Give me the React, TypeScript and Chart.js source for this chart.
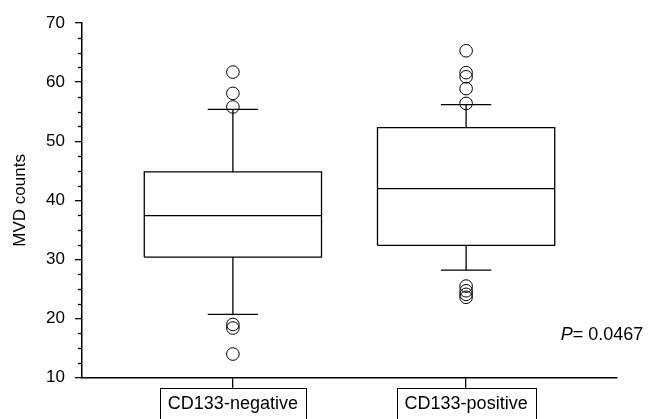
import React, { useEffect, useRef } from 'react';
import { Chart, registerables } from 'chart.js';

Chart.register(...registerables);

const categories = ['CD133-negative', 'CD133-positive'];
const q1Values = [30.4, 32.4];
const medianValues = [37.4, 42.0];
const q3Values = [44.8, 52.3];
const whiskerLowValues = [20.7, 28.2];
const whiskerHighValues = [55.4, 56.2];
const outliersNegative = [61.7, 58.1, 55.8, 19.0, 18.4, 14.0];
const outliersPositive = [65.3, 61.6, 60.9, 58.9, 56.4, 25.5, 24.7, 24.1, 23.6];
const yMin = 10;
const yMax = 70;
const yStep = 10;
const yMinorStep = 2.5;
const pLabelItalic = 'P';
const pLabelRest = '= 0.0467';
const pLabelAt = { x: 2.406, y: 17.25 };

const BOX_HALF = 0.38;
const CAP_HALF = 0.108;
const FONT = '"Liberation Sans", Arial, Helvetica, sans-serif';

type Pt = { x: number; y: number | null };

function buildBoxes(): Pt[] {
  const pts: Pt[] = [];
  categories.forEach((_, i) => {
    const x = i + 1;
    const a = x - BOX_HALF;
    const b = x + BOX_HALF;
    pts.push({ x: a, y: q1Values[i] }, { x: b, y: q1Values[i] }, { x: b, y: q3Values[i] }, { x: a, y: q3Values[i] }, { x: a, y: q1Values[i] }, { x, y: null });
    pts.push({ x: a, y: medianValues[i] }, { x: b, y: medianValues[i] }, { x, y: null });
  });
  return pts;
}

function buildWhiskers(): Pt[] {
  const pts: Pt[] = [];
  categories.forEach((_, i) => {
    const x = i + 1;
    pts.push({ x, y: q3Values[i] }, { x, y: whiskerHighValues[i] }, { x, y: null });
    pts.push({ x: x - CAP_HALF, y: whiskerHighValues[i] }, { x: x + CAP_HALF, y: whiskerHighValues[i] }, { x, y: null });
    pts.push({ x, y: q1Values[i] }, { x, y: whiskerLowValues[i] }, { x, y: null });
    pts.push({ x: x - CAP_HALF, y: whiskerLowValues[i] }, { x: x + CAP_HALF, y: whiskerLowValues[i] }, { x, y: null });
  });
  return pts;
}

function buildOutliers(): Pt[] {
  return [
    ...outliersNegative.map((y) => ({ x: 1, y })),
    ...outliersPositive.map((y) => ({ x: 2, y })),
  ];
}

const extrasPlugin = {
  id: 'extras',
  afterDraw(chart: any) {
    const ctx = chart.ctx as CanvasRenderingContext2D;
    const xs = chart.scales.x;
    const ys = chart.scales.y;
    const area = chart.chartArea;
    ctx.save();
    ctx.strokeStyle = '#000';
    ctx.lineWidth = 1.3;
    for (let v = yMin; v <= yMax + 1e-9; v += yMinorStep) {
      if (Math.abs(v / yStep - Math.round(v / yStep)) < 1e-6) continue;
      const py = Math.round(ys.getPixelForValue(v)) + 0.5;
      ctx.beginPath();
      ctx.moveTo(area.left - 4, py);
      ctx.lineTo(area.left, py);
      ctx.stroke();
    }
    ctx.font = `18px ${FONT}`;
    ctx.lineWidth = 1;
    categories.forEach((label, i) => {
      const px = xs.getPixelForValue(i + 1);
      const w = ctx.measureText(label).width + 16;
      ctx.strokeRect(Math.round(px - w / 2) + 0.5, Math.round(area.bottom + 10) + 0.5, Math.round(w), 60);
    });
    const tx = xs.getPixelForValue(pLabelAt.x);
    const ty = ys.getPixelForValue(pLabelAt.y);
    ctx.fillStyle = '#000';
    ctx.textBaseline = 'middle';
    ctx.textAlign = 'left';
    ctx.font = `italic 18px ${FONT}`;
    ctx.fillText(pLabelItalic, tx, ty);
    const pw = ctx.measureText(pLabelItalic).width;
    ctx.font = `18px ${FONT}`;
    ctx.fillText(pLabelRest, tx + pw, ty);
    ctx.restore();
  },
};

export default function App() {
  const ref = useRef<HTMLCanvasElement | null>(null);
  useEffect(() => {
    if (!ref.current) return;
    const chart = new Chart(ref.current, {
      type: 'scatter',
      data: {
        datasets: [
          {
            data: buildBoxes() as any,
            showLine: true,
            spanGaps: false,
            borderColor: '#000',
            borderWidth: 1.3,
            pointRadius: 0,
            pointHoverRadius: 0,
          },
          {
            data: buildWhiskers() as any,
            showLine: true,
            spanGaps: false,
            borderColor: '#000',
            borderWidth: 1.3,
            pointRadius: 0,
            pointHoverRadius: 0,
          },
          {
            data: buildOutliers() as any,
            showLine: false,
            pointRadius: 6.3,
            pointBorderWidth: 1,
            pointBorderColor: '#000',
            pointBackgroundColor: 'rgba(0,0,0,0)',
          },
        ],
      },
      options: {
        animation: false,
        responsive: false,
        devicePixelRatio: 1,
        layout: { padding: { top: 23, right: 45, left: 0, bottom: 0 } },
        plugins: { legend: { display: false }, tooltip: { enabled: false } },
        scales: {
          x: {
            type: 'linear',
            min: 0.353,
            max: 2.647,
            afterBuildTicks: (scale: any) => {
              scale.ticks = categories.map((_, i) => ({ value: i + 1 }));
            },
            afterFit: (scale: any) => {
              scale.height = 41.3;
            },
            ticks: {
              autoSkip: false,
              maxRotation: 0,
              padding: 6,
              color: '#000',
              font: { family: FONT, size: 18 },
              callback: (v: any) => categories[Math.round(Number(v)) - 1] ?? '',
            },
            grid: { drawOnChartArea: false, tickLength: 10, color: '#000', lineWidth: 1.3 },
            border: { display: true, color: '#000', width: 1.5 },
          },
          y: {
            type: 'linear',
            min: yMin,
            max: yMax,
            afterFit: (scale: any) => {
              scale.width = 82;
            },
            ticks: {
              stepSize: yStep,
              padding: 10,
              color: '#000',
              font: { family: FONT, size: 17 },
            },
            grid: { drawOnChartArea: false, tickLength: 7, color: '#000', lineWidth: 1.3 },
            border: { display: true, color: '#000', width: 1.5 },
            title: {
              display: true,
              text: 'MVD counts',
              color: '#000',
              font: { family: FONT, size: 17 },
              padding: { top: 10, bottom: 0 },
            },
          },
        },
      },
      plugins: [extrasPlugin],
    });
    return () => chart.destroy();
  }, []);
  return (
    <div style={{ position: 'fixed', left: 0, top: 0, width: 662, height: 419, background: '#fff' }}>
      <canvas ref={ref} width={662} height={419} style={{ display: 'block' }} />
    </div>
  );
}
